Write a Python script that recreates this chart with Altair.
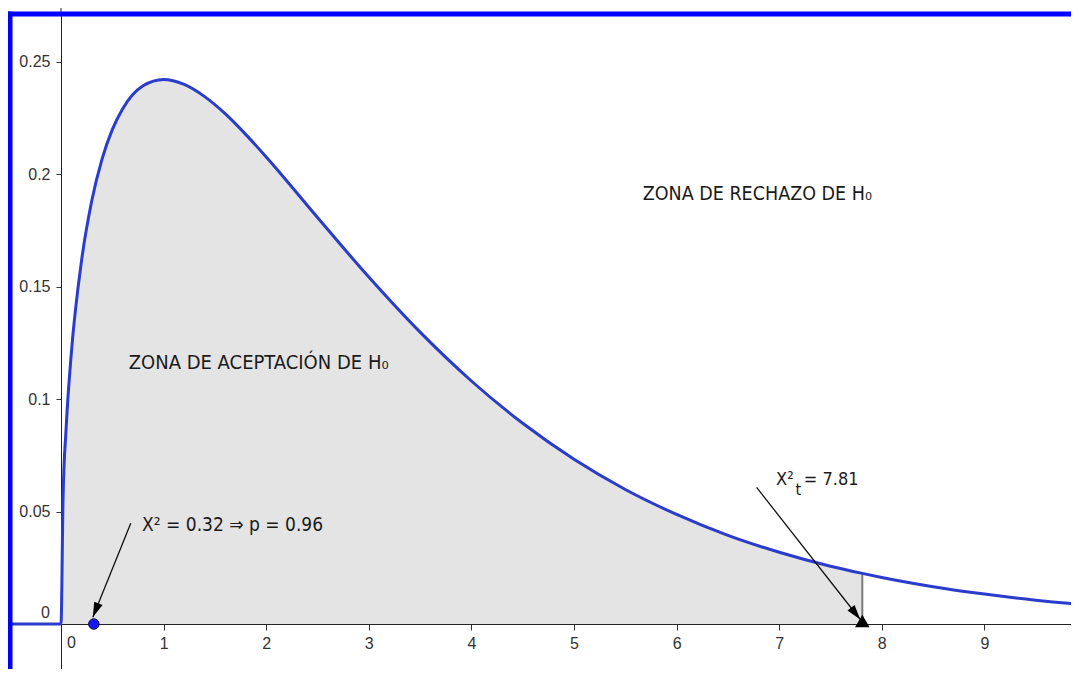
import altair as alt
import pandas as pd

# ---- data ----
curve_x = [-0.6, 0.0, 0.02, 0.05, 0.1, 0.2, 0.3, 0.4, 0.5, 0.6, 0.8, 1.0, 1.2, 1.4, 1.6, 1.8,
           2.0, 2.5, 3.0, 3.5, 4.0, 4.5, 5.0, 5.5, 6.0, 6.5, 7.0, 7.5, 7.81, 8.0, 8.5, 9.0,
           9.5, 10.0, 10.2]
curve_y = [0.0, 0.0, 0.0559, 0.0870, 0.1200, 0.1614, 0.1881, 0.2066, 0.2197, 0.2289, 0.2392,
           0.2420, 0.2398, 0.2344, 0.2268, 0.2176, 0.2076, 0.1807, 0.1542, 0.1297, 0.1080,
           0.0892, 0.0732, 0.0598, 0.0487, 0.0394, 0.0319, 0.0257, 0.0225, 0.0207, 0.0166,
           0.0133, 0.0106, 0.0085, 0.0078]

critical_x = 7.81
critical_y = 0.0225
observed_x = 0.32

x_ticks = [1, 2, 3, 4, 5, 6, 7, 8, 9]
y_ticks = [0.05, 0.1, 0.15, 0.2, 0.25]

big_text = ["ZONA DE RECHAZO DE H₀", "ZONA DE ACEPTACIÓN DE H₀"]
big_x = [5.67, 0.66]
big_y = [0.1885, 0.1135]
big_size = [19.5, 20]

small_text = ["X² = 0.32  ⇒  p = 0.96", "X²", "= 7.81"]
small_x = [0.79, 6.97, 7.24]
small_y = [0.0412, 0.0617, 0.0617]
small_size = [19, 18, 18]
sub_text = ["t"]
sub_x = [7.16]
sub_y = [0.0572]

arrow_x1 = [0.68, 6.78]
arrow_y1 = [0.0448, 0.0607]
arrow_x2 = [0.31, 7.79]
arrow_y2 = [0.0030, 0.0020]
arrow_angle = [201.8, 142.0]

# ---- frames ----
curve = pd.DataFrame({"x": curve_x, "y": curve_y})
area = curve[(curve.x >= 0) & (curve.x <= critical_x)].copy()
area["y0"] = 0.0
crit = pd.DataFrame({"x": [critical_x], "y": [critical_y], "y0": [0.0]})
obs = pd.DataFrame({"x": [observed_x], "y": [0.0]})
big = pd.DataFrame({"x": big_x, "y": big_y, "t": big_text, "s": big_size})
small = pd.DataFrame({"x": small_x, "y": small_y, "t": small_text, "s": small_size})
sub = pd.DataFrame({"x": sub_x, "y": sub_y, "t": sub_text})
arrows = pd.DataFrame({"x": arrow_x1, "y": arrow_y1, "x2": arrow_x2, "y2": arrow_y2,
                       "a": arrow_angle})
zero = pd.DataFrame({"x": [0.0], "y": [0.0], "t": ["0"]})

W, H = 1061, 655
XD = [-51 / 102.6, (W - 51) / 102.6]
YD = [-(H - 610) / 2250, 610 / 2250]

xs = alt.Scale(domain=XD, nice=False, zero=False)
ys = alt.Scale(domain=YD, nice=False, zero=False)

label_font = "Liberation Sans"
ann_font = "Liberation Sans Narrow, DejaVu Sans Condensed, Arial Narrow, sans-serif"

X = alt.X("x:Q", scale=xs, axis=alt.Axis(values=x_ticks, title=None, grid=False,
                                         offset=-(H - 610), format="d",
                                         tickSize=6, labelPadding=5, labelFontSize=16,
                                         labelFont=label_font, labelColor="#333",
                                         domainColor="#222", tickColor="#333",
                                         labelFlush=False))
Y = alt.Y("y:Q", scale=ys, axis=alt.Axis(values=y_ticks, title=None, grid=False, offset=-51,
                                         format=".2~f", tickSize=5, labelPadding=6,
                                         labelFontSize=16, labelFont=label_font,
                                         labelColor="#333", domainColor="#222",
                                         tickColor="#333", labelFlush=False))

area_layer = alt.Chart(area).mark_area(color="#e4e4e4", opacity=1, interpolate="monotone").encode(
    x=X, y=Y, y2="y0:Q")
crit_line = alt.Chart(crit).mark_rule(color="#7a7a7a", strokeWidth=2).encode(
    x="x:Q", y="y:Q", y2="y0:Q")
curve_layer = alt.Chart(curve).mark_line(color="#2a3ccc", strokeWidth=3,
                                         interpolate="monotone", clip=True).encode(
    x="x:Q", y="y:Q")
arrow_lines = alt.Chart(arrows).mark_rule(color="#111", strokeWidth=1.3).encode(
    x="x:Q", y="y:Q", x2="x2:Q", y2="y2:Q")
arrow_heads = alt.Chart(arrows).mark_point(
    shape="M0,0L0.3,1L-0.3,1Z", filled=True, color="#000", opacity=1, size=900).encode(
    x="x2:Q", y="y2:Q", angle=alt.Angle("a:Q", scale=None))
obs_point = alt.Chart(obs).mark_point(filled=True, color="#1515f5", stroke="#101040",
                                      strokeWidth=1, opacity=1, size=110).encode(
    x="x:Q", y="y:Q")
crit_tri = alt.Chart(crit).mark_point(shape="triangle-up", filled=True, color="#000",
                                      opacity=1, size=210, yOffset=-3).encode(
    x="x:Q", y="y0:Q")
big_layer = alt.Chart(big).mark_text(align="left", baseline="alphabetic",
                                     font=ann_font, color="#1a1a1a").encode(
    x="x:Q", y="y:Q", text="t:N", size=alt.Size("s:Q", scale=None))
small_layer = alt.Chart(small).mark_text(align="left", baseline="alphabetic",
                                         font=ann_font, color="#1a1a1a").encode(
    x="x:Q", y="y:Q", text="t:N", size=alt.Size("s:Q", scale=None))
sub_layer = alt.Chart(sub).mark_text(align="left", baseline="alphabetic", fontSize=16,
                                     font=ann_font, color="#1a1a1a").encode(
    x="x:Q", y="y:Q", text="t:N")
zero_x = alt.Chart(zero).mark_text(align="left", baseline="top", fontSize=16, dx=6, dy=11,
                                   font=label_font, color="#333").encode(
    x="x:Q", y="y:Q", text="t:N")
zero_y = alt.Chart(zero).mark_text(align="right", baseline="alphabetic", fontSize=16, dx=-11,
                                   dy=-6, font=label_font, color="#333").encode(
    x="x:Q", y="y:Q", text="t:N")
yaxis_top = alt.Chart(zero).mark_rule(color="#222", strokeWidth=1).encode(
    x="x:Q", y=alt.value(-8), y2=alt.value(0))
frame_top = alt.Chart(zero).mark_rule(color="#0000ff", strokeWidth=5).encode(
    x=alt.value(-2.5), x2=alt.value(W), y=alt.value(0))
frame_left = alt.Chart(zero).mark_rule(color="#0000ff", strokeWidth=5).encode(
    x=alt.value(0), y=alt.value(-2.5), y2=alt.value(H))

chart = alt.layer(
    area_layer, crit_line, curve_layer, arrow_lines, arrow_heads, obs_point, crit_tri,
    big_layer, small_layer, sub_layer, zero_x, zero_y, yaxis_top, frame_top, frame_left
).properties(
    width=W, height=H,
    autosize=alt.AutoSizeParams(type="none"),
    padding={"left": 2, "top": 6, "right": 0, "bottom": 0},
).configure_view(stroke=None).configure(background="white")

chart.save("out.html", embed_options={"renderer": "svg", "actions": False})
